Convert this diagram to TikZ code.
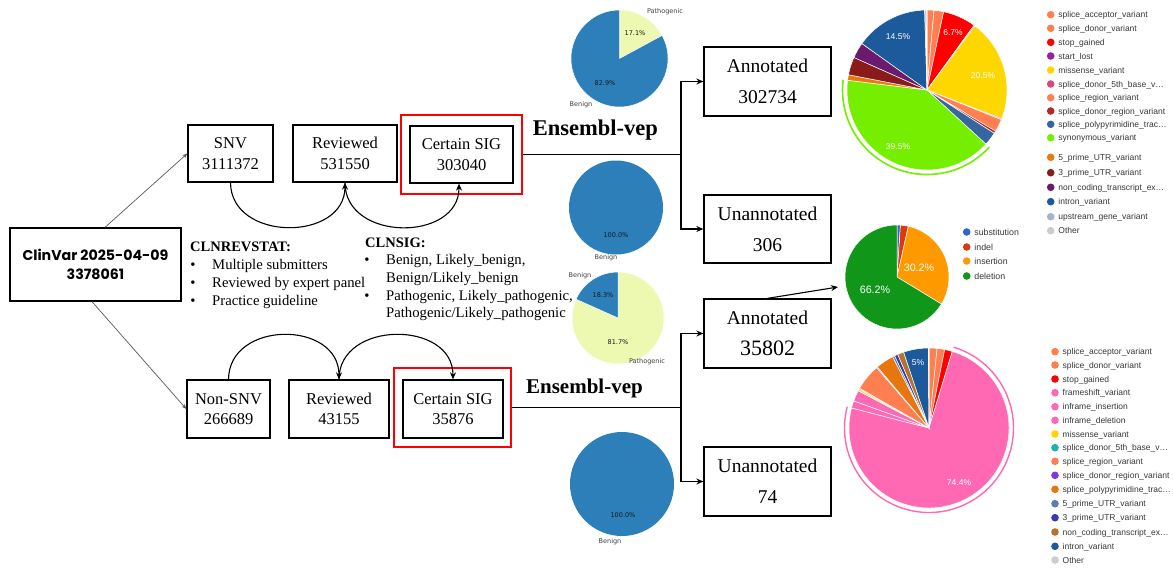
\documentclass[tikz,border=0pt]{standalone}
\usepackage{fontspec}
\setmainfont{Liberation Serif}
\newfontfamily\arsf{Liberation Sans}
\newfontfamily\djv{DejaVu Sans}
\newfontfamily\popf{Poppins}
\usetikzlibrary{arrows.meta}
\definecolor{cPblue}{HTML}{2C7FB8}
\definecolor{cPyel}{HTML}{EDF8B1}
\definecolor{cCoral}{HTML}{FF7F50}
\definecolor{cRed}{HTML}{FF0000}
\definecolor{cSlpur}{HTML}{9B1FA0}
\definecolor{cMis}{HTML}{FFD700}
\definecolor{cS5pink}{HTML}{E0457B}
\definecolor{cSdrred}{HTML}{B22A2A}
\definecolor{cSppblue}{HTML}{35679E}
\definecolor{cSyn}{HTML}{76EE00}
\definecolor{cUtrA}{HTML}{E8790E}
\definecolor{cUtrB}{HTML}{8B1A1A}
\definecolor{cNcpur}{HTML}{6A1B6E}
\definecolor{cIntron}{HTML}{1C5A9C}
\definecolor{cUpstr}{HTML}{A2B5CD}
\definecolor{cOther}{HTML}{CCCCCC}
\definecolor{cHpink}{HTML}{FF69B4}
\definecolor{cTeal}{HTML}{20B2AA}
\definecolor{cSdrvio}{HTML}{7A3CD8}
\definecolor{cPpyor}{HTML}{E8760E}
\definecolor{cUtrC}{HTML}{5B7DB1}
\definecolor{cUtrD}{HTML}{3A3AAA}
\definecolor{cNcbrown}{HTML}{B5732D}
\definecolor{cGsub}{HTML}{3366CC}
\definecolor{cGindel}{HTML}{DC3912}
\definecolor{cGins}{HTML}{FF9900}
\definecolor{cGdel}{HTML}{109618}
\newcommand{\psl}[5]{\fill[#5,draw=white,line width=0.5pt] (#1) -- ++({#3-90}:#2) arc[start angle={#3-90},end angle={#4-90},radius=#2] -- cycle;}
\newcommand{\lgd}[5]{\fill[#3] (#1,#2) circle[radius=3.8pt]; \node[lgt] (#5) at ({#1+7.5},{#2+3}) {#4};}
\begin{document}
\begin{tikzpicture}[x=1pt,y=-1pt,
  box/.style={draw=black,line width=1.3pt,inner sep=0pt,align=center,font=\fontsize{16.5}{20.5}\selectfont},
  bigbox/.style={draw=black,line width=1.3pt,inner sep=0pt,align=center,minimum width=127pt,minimum height=69pt,font=\fontsize{19.5}{31}\selectfont},
  redbox/.style={draw=red,line width=1.3pt,inner sep=0pt},
  conn/.style={line width=1.3pt,draw=black},
  tip/.style={-{Stealth[length=7pt,width=6pt]}},
  thinarr/.style={draw=black!65,line width=0.7pt,-{Stealth[length=5pt,width=4pt]}},
  lgt/.style={anchor=base west,inner sep=0pt,font=\arsf\fontsize{8.5}{10}\selectfont,text=black!78},
  plab/.style={inner sep=0pt,font=\djv\fontsize{6.5}{7}\selectfont,text=black!75},
  pct/.style={inner sep=0pt,font=\djv\fontsize{6.5}{7}\selectfont,text=black!90},
  wlab/.style={inner sep=0pt,font=\arsf\fontsize{8.5}{10}\selectfont,text=white},
  txt/.style={anchor=base west,inner sep=0pt,font=\fontsize{14.7}{17}\selectfont},
  bul/.style={anchor=base,inner sep=0pt,font=\fontsize{14.7}{17}\selectfont}]
\useasboundingbox[fill=white] (0,0) rectangle (1173,570);

% ---------- boxes ----------
\node[box,font=\popf\bfseries\fontsize{14.2}{19}\selectfont,minimum width=171pt,minimum height=73pt] (clinvar) at (95.5,264.5) {ClinVar 2025-04-09\\3378061};
\node[box,minimum width=85pt,minimum height=57pt] (snv) at (230.5,153.5) {SNV\\3111372};
\node[box,minimum width=104pt,minimum height=57pt] (rev1) at (345,153.5) {Reviewed\\531550};
\node[redbox,minimum width=121pt,minimum height=79pt] (sig1r) at (461.5,154.5) {};
\node[box,minimum width=103pt,minimum height=57pt] (sig1) at (461.5,154.5) {Certain SIG\\303040};
\node[box,minimum width=83pt,minimum height=58pt] (nsnv) at (228.5,409) {Non-SNV\\266689};
\node[box,minimum width=100pt,minimum height=58pt] (rev2) at (339,409) {Reviewed\\43155};
\node[redbox,minimum width=117pt,minimum height=79pt] (sig2r) at (452.5,407.5) {};
\node[box,minimum width=100pt,minimum height=58pt] (sig2) at (453,409) {Certain SIG\\35876};

\node[bigbox] (ann1) at (767.5,81.5) {Annotated\\302734};
\node[bigbox,minimum height=68pt] (una1) at (767.5,229) {Unannotated\\306};
\node[bigbox] (ann2) at (767.5,333.5) {Annotated\\{\fontsize{22}{31}\selectfont 35802}};
\node[bigbox] (una2) at (767.5,481.5) {Unannotated\\74};

\node[anchor=base east,inner sep=0pt,font=\bfseries\fontsize{22.5}{26}\selectfont] (ev1) at (658,135) {Ensembl-vep};
\node[anchor=base east,inner sep=0pt,font=\bfseries\fontsize{21}{24}\selectfont] (ev2) at (643,393) {Ensembl-vep};

% ---------- connectors ----------
\draw[thinarr] ([xshift=9.5pt]clinvar.north) -- (snv.west);
\draw[thinarr] ([xshift=-3.5pt]clinvar.south) -- (nsnv.west);

\draw[line width=1.1pt,tip] (snv.south) .. controls (231,242) and (345,242) .. (rev1.south);
\draw[line width=1.1pt,tip] (rev1.south) .. controls (345,242) and (459,242) .. ([xshift=-2.5pt]sig1.south);
\draw[line width=1.1pt,tip] (nsnv.north) .. controls (229,320) and (339,320) .. (rev2.north);
\draw[line width=1.1pt,tip] (rev2.north) .. controls (339,320) and (453,320) .. (sig2.north);

\coordinate (b1) at (681,154.5);
\coordinate (b2) at (681,407.5);
\draw[conn] (sig1r.east) -- (b1);
\draw[conn,tip] (b1) |- (ann1.west);
\draw[conn,tip] (b1) |- (una1.west);
\draw[conn] (sig2r.east) -- (b2);
\draw[conn,tip] (b2) |- (ann2.west);
\draw[conn,tip] (b2) |- (una2.west);
\coordinate (pmtip) at (838,287);
\draw[line width=1.1pt,tip] (ann2.north) -- (pmtip);

% ---------- left pies ----------
\coordinate (pa) at (619.5,58.5);
\psl{pa}{48.5}{0}{61.56}{cPyel}
\psl{pa}{48.5}{61.56}{360}{cPblue}
\node[plab] (pa1) at (665,12) {Pathogenic};
\node[pct] (pa2) at (635,33) {17.1\%};
\node[pct] (pa3) at (605,83) {82.9\%};
\node[plab] (pa4) at (581,105) {Benign};

\coordinate (pb) at (616,207.5);
\fill[cPblue] (pb) circle[radius=47pt];
\node[pct] (pb1) at (616,235) {100.0\%};
\node[plab] (pb2) at (606,258) {Benign};

\coordinate (pc) at (618,318);
\psl{pc}{46}{0}{294.12}{cPyel}
\psl{pc}{46}{294.12}{360}{cPblue}
\node[plab] (pc1) at (580,276) {Benign};
\node[pct] (pc2) at (603,295) {18.3\%};
\node[pct] (pc3) at (618,342) {81.7\%};
\node[plab] (pc4) at (647,362) {Pathogenic};

\coordinate (pd) at (622,484);
\fill[cPblue] (pd) circle[radius=52pt];
\node[pct] (pd1) at (623,515) {100.0\%};
\node[plab] (pd2) at (610,542) {Benign};

% ---------- text lists ----------
\node[txt,font=\bfseries\fontsize{14.5}{17}\selectfont] (crt) at (190,251) {CLNREVSTAT:};
\node[bul] (cb1) at (193,269) {\textbullet};
\node[txt] (ct1) at (212,269) {Multiple submitters};
\node[bul] (cb2) at (193,287) {\textbullet};
\node[txt] (ct2) at (212,287) {Reviewed by expert panel};
\node[bul] (cb3) at (193,305) {\textbullet};
\node[txt] (ct3) at (212,305) {Practice guideline};

\node[txt,font=\bfseries\fontsize{14.5}{17}\selectfont] (csg) at (365,247) {CLNSIG:};
\node[bul] (sb1) at (367,264) {\textbullet};
\node[txt] (st1) at (386,264) {Benign, Likely\_benign,};
\node[txt] (st2) at (386,282) {Benign/Likely\_benign};
\node[bul] (sb2) at (367,300.5) {\textbullet};
\node[txt] (st3) at (386,300.5) {Pathogenic, Likely\_pathogenic,};
\node[txt] (st4) at (386,317) {Pathogenic/Likely\_pathogenic};

% ---------- top right pie ----------
\coordinate (pt) at (927,90);
\psl{pt}{80}{0}{5}{cCoral}
\psl{pt}{80}{5}{12}{cCoral}
\psl{pt}{80}{12}{36}{cRed}
\psl{pt}{80}{36}{36.8}{cSlpur}
\psl{pt}{80}{36.8}{111}{cMis}
\psl{pt}{80}{111}{111.8}{cS5pink}
\psl{pt}{80}{111.8}{121}{cCoral}
\psl{pt}{80}{121}{122.8}{cSdrred}
\psl{pt}{80}{122.8}{132.6}{cSppblue}
\psl{pt}{80}{132.6}{277}{cSyn}
\psl{pt}{80}{277}{281}{cUtrA}
\psl{pt}{80}{281}{294}{cUtrB}
\psl{pt}{80}{294}{305.5}{cNcpur}
\psl{pt}{80}{305.5}{358.3}{cIntron}
\psl{pt}{80}{358.3}{359.3}{cUpstr}
\psl{pt}{80}{359.3}{360}{cOther}
\draw[cSyn,line width=1.6pt] (pt) ++({132.6-90}:84.5) arc[start angle={132.6-90},end angle={277-90},radius=84.5];
\node[wlab] (tl1) at (898,37) {14.5\%};
\node[wlab] (tl2) at (953,33) {6.7\%};
\node[wlab] (tl3) at (983,76) {20.5\%};
\node[wlab] (tl4) at (898,147) {39.5\%};

\lgd{1050.7}{14.7}{cCoral}{splice\_acceptor\_variant}{la1}
\lgd{1050.7}{28.3}{cCoral}{splice\_donor\_variant}{la2}
\lgd{1050.7}{42.3}{cRed}{stop\_gained}{la3}
\lgd{1050.7}{56}{cSlpur}{start\_lost}{la4}
\lgd{1050.7}{70}{cMis}{missense\_variant}{la5}
\lgd{1050.7}{84}{cS5pink}{splice\_donor\_5th\_base\_v…}{la6}
\lgd{1050.7}{97.7}{cCoral}{splice\_region\_variant}{la7}
\lgd{1050.7}{111}{cSdrred}{splice\_donor\_region\_variant}{la8}
\lgd{1050.7}{124.3}{cSppblue}{splice\_polypyrimidine\_trac…}{la9}
\lgd{1050.7}{137.7}{cSyn}{synonymous\_variant}{la10}
\lgd{1050.7}{157.3}{cUtrA}{5\_prime\_UTR\_variant}{la11}
\lgd{1050.7}{172.7}{cUtrB}{3\_prime\_UTR\_variant}{la12}
\lgd{1050.7}{187.3}{cNcpur}{non\_coding\_transcript\_ex…}{la13}
\lgd{1050.7}{201.7}{cIntron}{intron\_variant}{la14}
\lgd{1050.7}{216.7}{cUpstr}{upstream\_gene\_variant}{la15}
\lgd{1050.7}{230.7}{cOther}{Other}{la16}

% ---------- middle pie ----------
\coordinate (pm) at (897,277);
\psl{pm}{52}{0}{3.8}{cGsub}
\psl{pm}{52}{3.8}{12.6}{cGindel}
\psl{pm}{52}{12.6}{121.3}{cGins}
\psl{pm}{52}{121.3}{360}{cGdel}
\node[wlab,font=\arsf\fontsize{10.7}{12}\selectfont] (ml1) at (919,268) {30.2\%};
\node[wlab,font=\arsf\fontsize{10.7}{12}\selectfont] (ml2) at (875,290) {66.2\%};
\begin{scope}[lgt/.append style={font=\arsf\fontsize{8.8}{10}\selectfont}]
\lgd{966.7}{232}{cGsub}{substitution}{lm1}
\lgd{966.7}{247}{cGindel}{indel}{lm2}
\lgd{966.7}{261}{cGins}{insertion}{lm3}
\lgd{966.7}{276}{cGdel}{deletion}{lm4}
\end{scope}

% ---------- bottom right pie ----------
\coordinate (pbt) at (929,428);
\psl{pbt}{80}{0}{5.8}{cCoral}
\psl{pbt}{80}{5.8}{11.3}{cCoral}
\psl{pbt}{80}{11.3}{16.9}{cRed}
\psl{pbt}{80}{16.9}{284.5}{cHpink}
\psl{pbt}{80}{284.5}{289.8}{cHpink}
\psl{pbt}{80}{289.8}{297.8}{cHpink}
\psl{pbt}{80}{297.8}{299}{cMis}
\psl{pbt}{80}{299}{299.8}{cTeal}
\psl{pbt}{80}{299.8}{319}{cCoral}
\psl{pbt}{80}{319}{319.8}{cSdrvio}
\psl{pbt}{80}{319.8}{333}{cPpyor}
\psl{pbt}{80}{333}{334.5}{cUtrC}
\psl{pbt}{80}{334.5}{337}{cUtrD}
\psl{pbt}{80}{337}{341.5}{cNcbrown}
\psl{pbt}{80}{341.5}{359.5}{cIntron}
\psl{pbt}{80}{359.5}{360}{cOther}
\draw[cHpink,line width=1.4pt] (pbt) ++({16.9-90}:84.5) arc[start angle={16.9-90},end angle={284.5-90},radius=84.5];
\node[wlab] (bl1) at (918,363) {5\%};
\node[wlab] (bl2) at (959,483) {74.4\%};

\lgd{1055}{351.7}{cCoral}{splice\_acceptor\_variant}{lb1}
\lgd{1055}{365}{cCoral}{splice\_donor\_variant}{lb2}
\lgd{1055}{379}{cRed}{stop\_gained}{lb3}
\lgd{1055}{392.7}{cHpink}{frameshift\_variant}{lb4}
\lgd{1055}{406.7}{cHpink}{inframe\_insertion}{lb5}
\lgd{1055}{420.3}{cHpink}{inframe\_deletion}{lb6}
\lgd{1055}{434}{cMis}{missense\_variant}{lb7}
\lgd{1055}{447.7}{cTeal}{splice\_donor\_5th\_base\_v…}{lb8}
\lgd{1055}{461.3}{cCoral}{splice\_region\_variant}{lb9}
\lgd{1055}{475.3}{cSdrvio}{splice\_donor\_region\_variant}{lb10}
\lgd{1055}{489.3}{cPpyor}{splice\_polypyrimidine\_trac…}{lb11}
\lgd{1055}{503.7}{cUtrC}{5\_prime\_UTR\_variant}{lb12}
\lgd{1055}{517.7}{cUtrD}{3\_prime\_UTR\_variant}{lb13}
\lgd{1055}{532}{cNcbrown}{non\_coding\_transcript\_ex…}{lb14}
\lgd{1055}{546.3}{cIntron}{intron\_variant}{lb15}
\lgd{1055}{560}{cOther}{Other}{lb16}
\end{tikzpicture}
\end{document}
